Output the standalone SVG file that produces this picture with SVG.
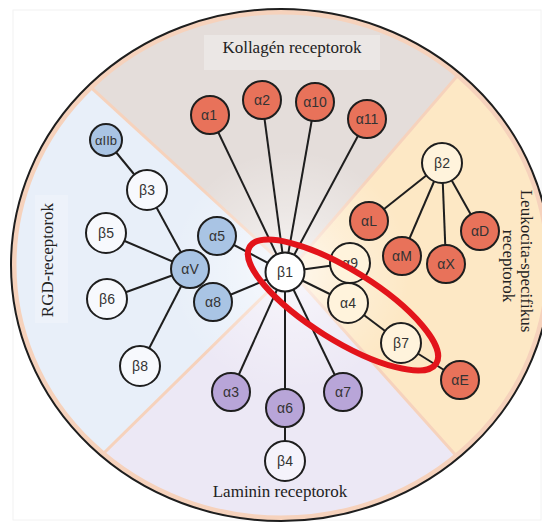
<svg xmlns="http://www.w3.org/2000/svg" width="542" height="523" viewBox="0 0 542 523">
<defs>
  <clipPath id="clipE"><ellipse cx="281" cy="265" rx="270" ry="256"/></clipPath>
  <radialGradient id="glow" cx="290" cy="270" r="120" gradientUnits="userSpaceOnUse">
    <stop offset="0" stop-color="#ffffff" stop-opacity="0.7"/>
    <stop offset="0.5" stop-color="#ffffff" stop-opacity="0.3"/>
    <stop offset="1" stop-color="#ffffff" stop-opacity="0"/>
  </radialGradient>
</defs>
<style>
  .sec-line { stroke: #f6d2bc; stroke-width: 3; fill: none; }
  .edge { stroke: #1e1e1e; stroke-width: 2; fill: none; }
  .node { stroke: #1e1e1e; stroke-width: 2; }
  .orange { fill: #e8725a; }
  .blue { fill: #a9c4e4; }
  .purple { fill: #b8a5d8; }
  .wb { fill: #f7f9fd; }
  .wy { fill: #fff3dc; }
  .wp { fill: #f5f3fb; }
  .lbl { font-family: "Liberation Sans", Arial, sans-serif; font-size: 14px; fill: #333333; text-anchor: middle; }
  .title { font-family: "Liberation Serif", "Times New Roman", serif; font-size: 17px; fill: #222222; text-anchor: middle; }
</style>
<rect x="0" y="0" width="542" height="523" fill="#ffffff"/>
<rect x="13" y="10" width="528" height="510" fill="none" stroke="#f2f2f2" stroke-width="1"/>

<g id="background" clip-path="url(#clipE)">
  <polygon points="290,270 -289,-261 776,-294" fill="#e4ddda"/>
  <polygon points="290,270 776,-294 800,840" fill="#fde8c5"/>
  <polygon points="290,270 800,840 -259,810" fill="#ece8f5"/>
  <polygon points="290,270 -259,810 -289,-261" fill="#e8eff9"/>
  <line class="sec-line" x1="290" y1="270" x2="-289" y2="-261"/>
  <line class="sec-line" x1="290" y1="270" x2="776" y2="-294"/>
  <line class="sec-line" x1="290" y1="270" x2="800" y2="840"/>
  <line class="sec-line" x1="290" y1="270" x2="-259" y2="810"/>
  <ellipse cx="290" cy="270" rx="130" ry="120" fill="url(#glow)"/>
  <rect x="204" y="35" width="176" height="35" fill="#ebe7e5"/>
  <rect x="35" y="195" width="33" height="128" fill="#edf2fa"/>
  <ellipse cx="281" cy="265" rx="267" ry="253" fill="none" stroke="#f6d2bc" stroke-width="5"/>
</g>
<ellipse id="outer" cx="281" cy="265" rx="270" ry="256" fill="none" stroke="#1e1e1e" stroke-width="2"/>

<g id="titles">
  <text class="title" x="292" y="53">Kollagén receptorok</text>
  <text class="title" transform="translate(53,260) rotate(-90)">RGD-receptorok</text>
  <text class="title" transform="translate(521,261) rotate(90)">Leukocita-specifikus</text>
  <text class="title" transform="translate(503,266) rotate(90)">receptorok</text>
  <text class="title" x="280" y="497">Laminin receptorok</text>
</g>

<g id="connectors">
  <line class="edge" x1="285" y1="272" x2="210" y2="115"/>
  <line class="edge" x1="285" y1="272" x2="262" y2="100"/>
  <line class="edge" x1="285" y1="272" x2="315" y2="102"/>
  <line class="edge" x1="285" y1="272" x2="367" y2="119"/>
  <line class="edge" x1="285" y1="272" x2="217" y2="236"/>
  <line class="edge" x1="285" y1="272" x2="213" y2="302"/>
  <line class="edge" x1="285" y1="272" x2="350" y2="263"/>
  <line class="edge" x1="285" y1="272" x2="348" y2="303"/>
  <line class="edge" x1="285" y1="272" x2="231" y2="392"/>
  <line class="edge" x1="285" y1="272" x2="285" y2="408"/>
  <line class="edge" x1="285" y1="272" x2="343" y2="392"/>
  <line class="edge" x1="285" y1="408" x2="285" y2="461"/>
  <line class="edge" x1="348" y1="303" x2="401" y2="343"/>
  <line class="edge" x1="401" y1="343" x2="460" y2="380"/>
  <line class="edge" x1="442" y1="163" x2="369" y2="221"/>
  <line class="edge" x1="442" y1="163" x2="402" y2="256"/>
  <line class="edge" x1="442" y1="163" x2="446" y2="264"/>
  <line class="edge" x1="442" y1="163" x2="480" y2="231"/>
  <line class="edge" x1="190" y1="269" x2="147" y2="190"/>
  <line class="edge" x1="190" y1="269" x2="106" y2="233"/>
  <line class="edge" x1="190" y1="269" x2="107" y2="299"/>
  <line class="edge" x1="190" y1="269" x2="140" y2="366"/>
  <line class="edge" x1="147" y1="190" x2="106" y2="140"/>
</g>

<g id="n-a1"><circle class="node orange" cx="210" cy="115" r="19"/><text class="lbl" x="209" y="120">α1</text></g>
<g id="n-a2"><circle class="node orange" cx="262" cy="100" r="19"/><text class="lbl" x="262" y="105">α2</text></g>
<g id="n-a10"><circle class="node orange" cx="315" cy="102" r="19"/><text class="lbl" x="315" y="107">α10</text></g>
<g id="n-a11"><circle class="node orange" cx="367" cy="119" r="19"/><text class="lbl" x="367" y="124">α11</text></g>
<g id="n-aL"><circle class="node orange" cx="369" cy="221" r="19"/><text class="lbl" x="369" y="226">αL</text></g>
<g id="n-aM"><circle class="node orange" cx="402" cy="256" r="19"/><text class="lbl" x="402" y="261">αM</text></g>
<g id="n-aX"><circle class="node orange" cx="446" cy="264" r="19"/><text class="lbl" x="446" y="269">αX</text></g>
<g id="n-aD"><circle class="node orange" cx="480" cy="231" r="19"/><text class="lbl" x="480" y="236">αD</text></g>
<g id="n-aE"><circle class="node orange" cx="460" cy="380" r="19"/><text class="lbl" x="460" y="385">αE</text></g>
<g id="n-aIIb"><circle class="node blue" cx="106" cy="140" r="16"/><text class="lbl" x="106" y="145" style="font-size:13px">αIIb</text></g>
<g id="n-a5"><circle class="node blue" cx="217" cy="236" r="19"/><text class="lbl" x="217" y="241">α5</text></g>
<g id="n-aV"><circle class="node blue" cx="190" cy="269" r="19"/><text class="lbl" x="190" y="274">αV</text></g>
<g id="n-a8"><circle class="node blue" cx="213" cy="302" r="19"/><text class="lbl" x="213" y="307">α8</text></g>
<g id="n-a3"><circle class="node purple" cx="231" cy="392" r="19"/><text class="lbl" x="231" y="397">α3</text></g>
<g id="n-a6"><circle class="node purple" cx="285" cy="408" r="19"/><text class="lbl" x="285" y="413">α6</text></g>
<g id="n-a7"><circle class="node purple" cx="343" cy="392" r="19"/><text class="lbl" x="343" y="397">α7</text></g>
<g id="n-b1"><circle class="node" fill="#ffffff" cx="285" cy="272" r="19.5"/><text class="lbl" x="285" y="277">β1</text></g>
<g id="n-b3"><circle class="node wb" cx="147" cy="190" r="20"/><text class="lbl" x="147" y="195">β3</text></g>
<g id="n-b5"><circle class="node wb" cx="106" cy="233" r="20"/><text class="lbl" x="106" y="238">β5</text></g>
<g id="n-b6"><circle class="node wb" cx="107" cy="299" r="20"/><text class="lbl" x="107" y="304">β6</text></g>
<g id="n-b8"><circle class="node wb" cx="140" cy="366" r="20"/><text class="lbl" x="140" y="371">β8</text></g>
<g id="n-b2"><circle class="node wy" cx="442" cy="163" r="20"/><text class="lbl" x="442" y="168">β2</text></g>
<g id="n-a9"><circle class="node wy" cx="350" cy="263" r="20"/><text class="lbl" x="350" y="268">α9</text></g>
<g id="n-a4"><circle class="node wy" cx="348" cy="303" r="20"/><text class="lbl" x="348" y="308">α4</text></g>
<g id="n-b7"><circle class="node wy" cx="401" cy="343" r="20"/><text class="lbl" x="401" y="348">β7</text></g>
<g id="n-b4"><circle class="node wp" cx="285" cy="461" r="20"/><text class="lbl" x="285" y="466">β4</text></g>

<g id="highlight">
  <ellipse cx="343" cy="305" rx="110" ry="35" transform="rotate(32 343 305)" fill="none" stroke="#e3141b" stroke-width="6"/>
</g>
</svg>
